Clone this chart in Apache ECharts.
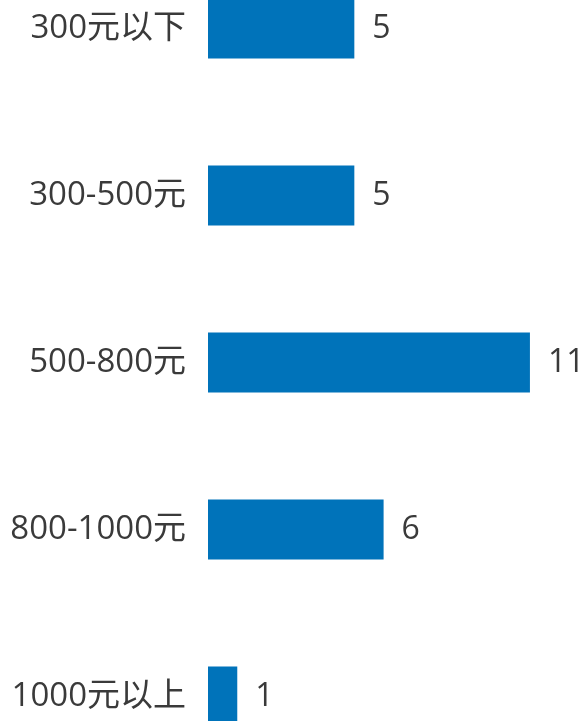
<!DOCTYPE html>
<html><head><meta charset="utf-8">
<script src="https://cdn.jsdelivr.net/npm/echarts@6/dist/echarts.min.js"></script>
<style>html,body{margin:0;padding:0;background:#fff}#c{width:586px;height:721px}</style>
</head><body><div id="c"></div>
<script>
var categories = ['300元以下', '300-500元', '500-800元', '800-1000元', '1000元以上'];
var values = [5, 5, 11, 6, 1];
var chart = echarts.init(document.getElementById('c'));
var font = '"Open Sans", "Noto Sans CJK SC", sans-serif';
chart.setOption({
  animation: false,
  grid: { left: 208, top: -55, width: 351.2, height: 835, containLabel: false, outerBoundsMode: 'none' },
  xAxis: { type: 'value', min: 0, max: 12, show: false },
  yAxis: {
    type: 'category', data: categories, inverse: true,
    axisLine: { show: false }, axisTick: { show: false }, splitLine: { show: false },
    axisLabel: { margin: 22, fontSize: 33, color: '#3a3a3a', fontFamily: font }
  },
  series: [{
    type: 'bar', data: values, barWidth: 60,
    itemStyle: { color: '#0073BA' },
    label: { show: true, position: 'right', distance: 18, fontSize: 32, color: '#3a3a3a', fontFamily: font }
  }]
});
</script></body></html>
